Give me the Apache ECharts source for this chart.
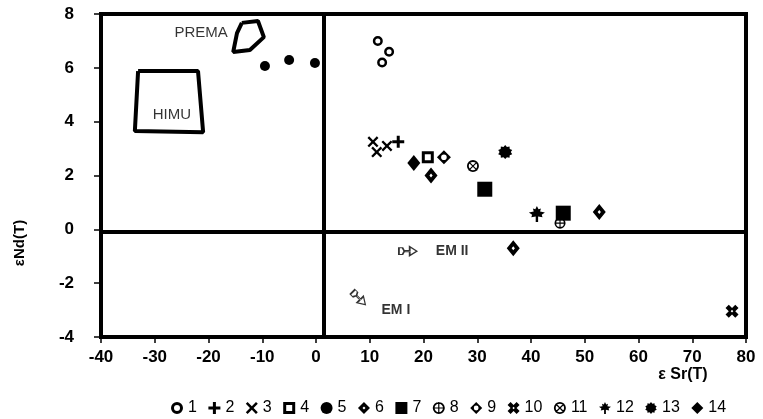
<!DOCTYPE html>
<html>
<head>
<meta charset="utf-8">
<script src="https://cdn.jsdelivr.net/npm/echarts@6/dist/echarts.min.js"></script>
<style>
  html, body { margin: 0; padding: 0; background: #fff; }
  #chart { width: 763px; height: 419px; }
</style>
</head>
<body>
<div id="chart"></div>
<script>
// axis ranges / ticks
const xMin = -40, xMax = 80, xStep = 10
const yMin = -4, yMax = 8, yStep = 2

// quadrant divider lines
const dividerX = 1.5
const dividerY = -0.1

// sample groups 1..14, [εSr(T), εNd(T)]
const g1 = [[11.5, 7.0], [13.6, 6.6], [12.3, 6.2]]
const g2 = [[15.3, 3.25]]
const g3 = [[10.6, 3.25], [11.3, 2.87], [13.2, 3.1]]
const g4 = [[20.8, 2.68]]
const g5 = [[-9.5, 6.07], [-5.0, 6.29], [-0.2, 6.18]]
const g6 = [[21.4, 2.0], [52.7, 0.64], [36.7, -0.7]]
const g7 = [[31.4, 1.49], [46.0, 0.6]]
const g8 = [[45.4, 0.23]]
const g9 = [[23.8, 2.68]]
const g10 = [[77.4, -3.04]]
const g11 = [[29.2, 2.35]]
const g12 = [[41.1, 0.57]]
const g13 = [[35.2, 2.87]]
const g14 = [[18.2, 2.46]]

// mantle end-member fields
const premaField = [[-13.8, 7.67], [-10.8, 7.74], [-9.7, 7.14], [-12.3, 6.66], [-15.4, 6.59], [-14.7, 7.29], [-13.8, 7.67]]
const himuField = [[-33.1, 5.88], [-21.95, 5.88], [-21.0, 3.61], [-33.7, 3.65], [-33.1, 5.88]]

// field labels: [x, y, text]
const fieldLabels = [[-16.4, 7.29, 'PREMA'], [-26.8, 4.25, 'HIMU']]
// trend arrows: [x, y, text, direction]
const emArrows = [[17.1, -0.81, 'EM II', 'right'], [8.0, -2.56, 'EM I', 'downright']]

function starPath(n, rOut, rIn) {
  let d = ''
  for (let i = 0; i < n * 2; i++) {
    const r = i % 2 === 0 ? rOut : rIn
    const a = (Math.PI * i) / n - Math.PI / 2
    const px = (10 + r * Math.cos(a)).toFixed(2)
    const py = (10 + r * Math.sin(a)).toFixed(2)
    d += (i === 0 ? 'M' : 'L') + px + ',' + py + ' '
  }
  return 'path://' + d + 'Z'
}

const RING = 'M10,0 A10,10 0 1,1 10,20 A10,10 0 1,1 10,0 Z '
const sym = {
  ring: 'path://' + RING + 'M10,5 A5,5 0 1,0 10,15 A5,5 0 1,0 10,5 Z',
  plus: 'path://M7.5,0 L12.5,0 L12.5,7.5 L20,7.5 L20,12.5 L12.5,12.5 L12.5,20 L7.5,20 L7.5,12.5 L0,12.5 L0,7.5 L7.5,7.5 Z',
  cross: 'path://M3,0 L10,7 L17,0 L20,3 L13,10 L20,17 L17,20 L10,13 L3,20 L0,17 L7,10 L0,3 Z',
  openSquare: 'path://M0,0 L20,0 L20,20 L0,20 Z M5,5 L5,15 L15,15 L15,5 Z',
  dotDiamond: 'path://M10,0 L20,10 L10,20 L0,10 Z M10,7.5 L7.5,10 L10,12.5 L12.5,10 Z',
  circlePlus: 'path://' + RING + 'M10,3 A7,7 0 1,0 10,17 A7,7 0 1,0 10,3 Z M9,0 L11,0 L11,20 L9,20 Z M0,9 L20,9 L20,11 L0,11 Z',
  holeDiamond: 'path://M10,0 L20,10 L10,20 L0,10 Z M10,6 A4,4 0 1,0 10,14 A4,4 0 1,0 10,6 Z',
  heavyX: 'path://M0,5 L5,0 L10,5 L15,0 L20,5 L15,10 L20,15 L15,20 L10,15 L5,20 L0,15 L5,10 Z M10,8 L8,10 L10,12 L12,10 Z',
  circleX: 'path://' + RING + 'M10,3 A7,7 0 1,0 10,17 A7,7 0 1,0 10,3 Z M3.6,2.2 L17.8,16.4 L16.4,17.8 L2.2,3.6 Z M16.4,2.2 L17.8,3.6 L3.6,17.8 L2.2,16.4 Z',
  leaf: 'path://M10,0 L12,4 L15,3 L14,7 L20,8 L16,11 L17,14 L11.5,13 L11.5,20 L8.5,20 L8.5,13 L3,14 L4,11 L0,8 L6,7 L5,3 L8,4 Z',
  burst: starPath(10, 10, 7.6),
  arrow: 'path://M0,2 L4,2 L6,5 L4,8 L0,8 Z M6,4.4 L12,4.4 L12,1 L20,5 L12,9 L12,5.6 L6,5.6 Z'
}

const groups = [
  { name: '1', data: g1, symbol: sym.ring, size: 10 },
  { name: '2', data: g2, symbol: sym.plus, size: 12 },
  { name: '3', data: g3, symbol: sym.cross, size: 11 },
  { name: '4', data: g4, symbol: sym.openSquare, size: 12 },
  { name: '5', data: g5, symbol: 'circle', size: 10 },
  { name: '6', data: g6, symbol: sym.dotDiamond, size: [13, 16] },
  { name: '7', data: g7, symbol: 'rect', size: 15 },
  { name: '8', data: g8, symbol: sym.circlePlus, size: 11 },
  { name: '9', data: g9, symbol: sym.holeDiamond, size: 14 },
  { name: '10', data: g10, symbol: sym.heavyX, size: 13 },
  { name: '11', data: g11, symbol: sym.circleX, size: 12 },
  { name: '12', data: g12, symbol: sym.leaf, size: 16 },
  { name: '13', data: g13, symbol: sym.burst, size: 14 },
  { name: '14', data: g14, symbol: 'diamond', size: [13, 16] }
]

const chart = echarts.init(document.getElementById('chart'))
const font = 'Liberation Sans, Arial, sans-serif'

const series = groups.map((g) => ({
  name: g.name,
  type: 'scatter',
  data: g.data,
  symbol: g.symbol,
  symbolSize: g.size,
  itemStyle: { color: '#000', opacity: 1 },
  z: 5
}))

series.push(
  {
    name: 'PREMA field',
    type: 'line',
    data: premaField,
    symbol: 'none',
    lineStyle: { color: '#000', width: 4 },
    silent: true,
    z: 3
  },
  {
    name: 'HIMU field',
    type: 'line',
    data: himuField,
    symbol: 'none',
    lineStyle: { color: '#000', width: 4 },
    silent: true,
    z: 3
  },
  {
    name: 'field labels',
    type: 'scatter',
    data: fieldLabels.map((d) => ({ value: [d[0], d[1]], text: d[2] })),
    symbolSize: 0,
    silent: true,
    label: {
      show: true,
      formatter: (p) => p.data.text,
      color: '#000',
      fontFamily: font,
      fontSize: 15
    },
    labelLayout: (p) => (p.dataIndex === 0 ? { align: 'right' } : { align: 'center' })
  },
  {
    name: 'EM arrows',
    type: 'scatter',
    data: emArrows.map((d) => ({
      value: [d[0], d[1]],
      text: d[2],
      symbolRotate: d[3] === 'right' ? 0 : -45,
      label: d[3] === 'right' ? { position: 'right', distance: 18 } : { position: 'right', distance: 5, offset: [7, 12] }
    })),
    symbol: sym.arrow,
    symbolSize: [18, 9],
    itemStyle: { color: '#fff', borderColor: '#000', borderWidth: 1.3 },
    silent: true,
    label: {
      show: true,
      formatter: (p) => p.data.text,
      color: '#000',
      fontFamily: font,
      fontWeight: 'bold',
      fontSize: 14
    }
  },
  {
    name: 'dividers',
    type: 'line',
    data: [],
    silent: true,
    markLine: {
      silent: true,
      symbol: 'none',
      label: { show: false },
      lineStyle: { color: '#000', width: 4, type: 'solid' },
      data: [{ xAxis: dividerX }, { yAxis: dividerY }]
    }
  }
)

chart.setOption({
  animation: false,
  backgroundColor: '#fff',
  textStyle: { fontFamily: font },
  grid: {
    left: 101,
    right: 17,
    top: 14,
    bottom: 82,
    show: true,
    borderColor: '#000',
    borderWidth: 4
  },
  xAxis: {
    type: 'value',
    min: xMin,
    max: xMax,
    interval: xStep,
    axisLine: { show: false, onZero: false },
    axisTick: { show: true, length: 6, lineStyle: { color: '#000', width: 1.5 } },
    splitLine: { show: false },
    axisLabel: { color: '#000', fontSize: 17, fontWeight: 'bold', margin: 12 }
  },
  yAxis: {
    type: 'value',
    min: yMin,
    max: yMax,
    interval: yStep,
    axisLine: { show: false, onZero: false },
    axisTick: { show: true, length: 7, lineStyle: { color: '#000', width: 1.5 } },
    splitLine: { show: false },
    axisLabel: { color: '#000', fontSize: 17, fontWeight: 'bold', margin: 27 }
  },
  legend: {
    data: groups.map((g) => g.name),
    left: 166,
    top: 395,
    width: 590,
    itemWidth: 12,
    itemHeight: 12,
    itemGap: 11.5,
    selectedMode: false,
    textStyle: { color: '#000', fontSize: 16, fontFamily: font }
  },
  graphic: [
    {
      type: 'text',
      x: 20,
      y: 243,
      rotation: Math.PI / 2,
      style: {
        text: 'εNd(T)',
        fill: '#000',
        font: 'bold 15px ' + font,
        textAlign: 'center',
        textVerticalAlign: 'middle'
      }
    },
    {
      type: 'text',
      x: 683,
      y: 375,
      style: {
        text: 'ε Sr(T)',
        fill: '#000',
        font: 'bold 16px ' + font,
        textAlign: 'center',
        textVerticalAlign: 'middle'
      }
    }
  ],
  series
})
</script>
</body>
</html>
